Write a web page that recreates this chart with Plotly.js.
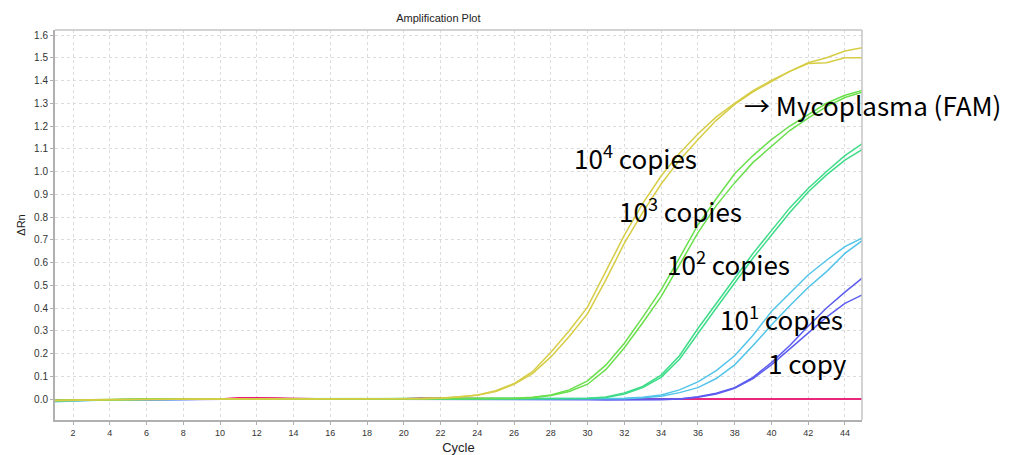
<!DOCTYPE html>
<html>
<head>
<meta charset="utf-8">
<script src="https://cdn.plot.ly/plotly-3.0.1.min.js"></script>
<style>html,body{margin:0;padding:0;background:#fff}#chart{width:1010px;height:455px}</style>
</head>
<body>
<div id="chart"></div>
<script>
// Cycle numbers 1..45
const cycles = [1,2,3,4,5,6,7,8,9,10,11,12,13,14,15,16,17,18,19,20,21,22,23,24,25,26,27,28,29,30,31,32,33,34,35,36,37,38,39,40,41,42,43,44,45];

// 10^4 copies (duplicates)
const e4a = [-0.008,-0.005,-0.004,-0.003,-0.002,-0.001,-0.002,-0.001,0.000,0.000,0.001,0.000,0.000,-0.001,0.000,0.000,0.000,0.000,0.000,0.001,0.002,0.004,0.009,0.018,0.036,0.068,0.12,0.205,0.30,0.405,0.56,0.72,0.86,0.98,1.08,1.165,1.24,1.30,1.355,1.40,1.44,1.478,1.50,1.53,1.545];
const e4b = [-0.006,-0.004,-0.003,-0.002,-0.002,-0.001,-0.001,0.000,0.000,0.000,0.000,0.000,-0.001,0.000,0.000,0.000,0.000,0.000,0.000,0.001,0.001,0.003,0.008,0.016,0.033,0.064,0.112,0.185,0.275,0.375,0.525,0.685,0.82,0.945,1.05,1.14,1.225,1.295,1.35,1.395,1.44,1.475,1.478,1.50,1.50];
// 10^3 copies
const e3a = [-0.006,-0.004,-0.003,-0.002,-0.001,-0.001,0.000,0.000,0.000,-0.001,0.000,0.000,0.000,0.000,0.000,0.000,0.000,0.000,0.000,0.000,0.000,0.000,0.000,0.001,0.001,0.003,0.008,0.018,0.04,0.08,0.15,0.245,0.36,0.48,0.62,0.765,0.88,0.99,1.07,1.14,1.20,1.25,1.30,1.335,1.358];
const e3b = [-0.007,-0.005,-0.004,-0.003,-0.002,-0.001,-0.001,0.000,0.000,0.000,0.000,0.000,0.000,0.000,0.000,0.000,0.000,0.000,0.000,0.000,0.000,0.000,0.000,0.000,0.001,0.002,0.006,0.015,0.033,0.065,0.13,0.225,0.335,0.45,0.59,0.73,0.85,0.95,1.04,1.11,1.18,1.235,1.285,1.325,1.35];
// 10^2 copies
const e2a = [-0.008,-0.006,-0.004,-0.003,-0.002,-0.001,0.000,0.000,0.000,0.000,0.000,0.000,0.000,0.000,0.000,0.000,0.000,0.000,0.000,0.000,0.000,0.000,0.000,0.000,0.000,0.000,0.000,0.000,0.001,0.003,0.009,0.027,0.055,0.105,0.19,0.31,0.42,0.53,0.64,0.74,0.84,0.925,1.00,1.07,1.125];
const e2b = [-0.007,-0.005,-0.004,-0.003,-0.002,-0.001,-0.001,0.000,0.000,0.000,0.000,0.000,0.000,0.000,0.000,0.000,0.000,0.000,0.000,0.000,0.000,0.000,0.000,0.000,0.000,0.000,0.000,0.000,0.000,0.002,0.007,0.022,0.05,0.095,0.175,0.29,0.40,0.51,0.62,0.72,0.82,0.91,0.985,1.05,1.10];
// 10^1 copies
const e1a = [-0.012,-0.008,-0.005,-0.004,-0.003,-0.001,-0.002,0.000,0.000,0.000,0.000,0.000,0.000,0.000,0.000,0.000,0.000,0.000,0.000,0.000,0.000,0.000,0.000,0.000,0.000,0.000,0.000,0.000,0.000,0.000,0.001,0.003,0.008,0.018,0.04,0.075,0.125,0.19,0.28,0.385,0.465,0.545,0.61,0.67,0.71];
const e1b = [-0.010,-0.007,-0.005,-0.004,-0.003,-0.002,-0.001,-0.001,0.000,0.000,0.000,0.000,0.000,0.000,0.000,0.000,0.000,0.000,0.000,0.000,0.000,0.000,0.000,0.000,0.000,0.000,0.000,0.000,0.000,0.000,0.000,0.001,0.005,0.012,0.028,0.05,0.09,0.15,0.235,0.325,0.41,0.49,0.56,0.64,0.70];
// 1 copy
const e0a = [-0.007,-0.005,-0.004,-0.004,-0.004,-0.003,-0.005,-0.002,-0.001,-0.002,0.000,0.000,0.000,0.000,0.000,0.000,0.000,0.000,0.000,0.000,0.000,0.000,0.000,0.000,-0.001,-0.001,-0.002,-0.002,-0.003,-0.003,-0.004,-0.004,-0.004,-0.003,0.000,0.01,0.025,0.05,0.095,0.16,0.235,0.32,0.40,0.47,0.535];
const e0b = [-0.006,-0.005,-0.004,-0.004,-0.003,-0.002,-0.003,-0.002,-0.001,-0.001,0.000,0.000,0.000,0.000,0.000,0.000,0.000,0.000,0.000,0.000,0.000,0.000,0.000,0.000,0.000,0.000,-0.001,-0.001,-0.002,-0.002,-0.003,-0.003,-0.003,-0.002,0.000,0.008,0.022,0.047,0.09,0.15,0.22,0.29,0.36,0.42,0.46];
// No-template controls
const ntcA = [-0.005,-0.004,-0.003,-0.003,-0.003,-0.002,-0.002,-0.001,0.000,0.000,0.006,0.006,0.004,0.001,0.000,0.000,0.000,0.000,0.000,0.001,0.004,0.003,0.001,0.000,0.000,0.000,0.000,0.000,0.000,0.000,0.000,0.000,0.000,0.000,0.000,0.000,0.000,0.000,0.000,0.000,0.000,0.000,0.000,0.000,0.000];
const ntcB = [-0.006,-0.005,-0.004,-0.004,-0.003,-0.002,-0.002,-0.001,0.000,0.000,0.004,0.005,0.003,0.000,0.000,0.000,0.000,-0.001,0.000,0.000,0.002,0.002,0.000,0.000,0.000,0.000,0.000,0.000,0.000,0.000,0.000,0.000,0.000,0.000,0.000,0.000,0.000,0.000,0.000,0.000,0.000,0.000,0.000,0.000,0.000];

const xTicks = [2,4,6,8,10,12,14,16,18,20,22,24,26,28,30,32,34,36,38,40,42,44];

// Text labels (data-space positions; the last one sits right of the plot, paper-space)
const labels = [
  {text:'10<sup>4</sup> copies', cx:32.58, cy:1.064, ref:'data'},
  {text:'10<sup>3</sup> copies', cx:35.08, cy:0.831, ref:'data'},
  {text:'10<sup>2</sup> copies', cx:37.69, cy:0.598, ref:'data'},
  {text:'10<sup>1</sup> copies', cx:40.57, cy:0.36, ref:'data'},
  {text:'1 copy', cx:41.99, cy:0.16, ref:'data'},
  {text:'→ Mycoplasma (FAM)', cx:1.0124, cy:0.81, ref:'paper'}
];

// drawing order: controls underneath, then low to high copy number
const series = [
  {y:ntcB, c:'#e0304a'}, {y:ntcA, c:'#ea1480'},
  {y:e0a, c:'#5c5cf0'}, {y:e0b, c:'#5c5cf0'},
  {y:e1a, c:'#52c4ea'}, {y:e1b, c:'#52c4ea'},
  {y:e2a, c:'#3ddc88'}, {y:e2b, c:'#3ddc88'},
  {y:e3a, c:'#6adf4c'}, {y:e3b, c:'#6adf4c'},
  {y:e4a, c:'#d6cd45'}, {y:e4b, c:'#d6cd45'}
];

const traces = series.map(s => ({
  x: cycles, y: s.y, type:'scatter', mode:'lines',
  line:{color:s.c, width:1.5}, hoverinfo:'skip', showlegend:false
}));

const annFont = {family:'"Noto Sans CJK SC", "Noto Sans", sans-serif', size:26, color:'#000'};

const layout = {
  width:1010, height:455,
  margin:{l:55, r:148, t:30, b:35},
  paper_bgcolor:'#fff', plot_bgcolor:'#fff',
  showlegend:false,
  title:{text:'Amplification Plot', font:{family:'"Liberation Sans", Arial, sans-serif', size:11, color:'#222'},
         x:0.434, xref:'container', y:0.96, yref:'container', yanchor:'middle'},
  xaxis:{
    range:[1.02,44.93], tickvals:xTicks, ticktext:xTicks.map(String),
    showgrid:true, gridcolor:'#dcdcdc', griddash:'3px,3px', gridwidth:1,
    showline:true, linecolor:'#b0b0b0', linewidth:2, zeroline:false,
    ticks:'outside', ticklen:3, tickcolor:'#b0b0b0',
    tickfont:{family:'"Liberation Sans", Arial, sans-serif', size:9, color:'#333'},
    title:{text:'Cycle', font:{family:'"Liberation Sans", Arial, sans-serif', size:13, color:'#222'}, standoff:6}
  },
  yaxis:{
    range:[-0.0923,1.622], dtick:0.1, tick0:0, tickformat:'.1f',
    showgrid:true, gridcolor:'#dcdcdc', griddash:'3px,3px', gridwidth:1,
    showline:true, linecolor:'#b0b0b0', linewidth:2, zeroline:false,
    ticks:'outside', ticklen:3, tickcolor:'#b0b0b0',
    tickfont:{family:'"Liberation Sans", Arial, sans-serif', size:10, color:'#333'},
    title:{text:'ΔRn', font:{family:'"Liberation Sans", Arial, sans-serif', size:11, color:'#222'}, standoff:6}
  },
  shapes:[
    {type:'line', xref:'paper', yref:'paper', x0:0, x1:1, y0:1, y1:1, line:{color:'#c4c4c4', width:1.5}},
    {type:'line', xref:'paper', yref:'paper', x0:1, x1:1, y0:0, y1:1, line:{color:'#c4c4c4', width:1.5}}
  ],
  annotations: labels.map(a => ({
    text:a.text, x:a.cx, y:a.cy,
    xref: a.ref === 'paper' ? 'paper' : 'x',
    yref: a.ref === 'paper' ? 'paper' : 'y',
    showarrow:false, xanchor:'center', yanchor:'middle', font:annFont
  }))
};

Plotly.newPlot('chart', traces, layout, {staticPlot:true, displayModeBar:false});
</script>
</body>
</html>
